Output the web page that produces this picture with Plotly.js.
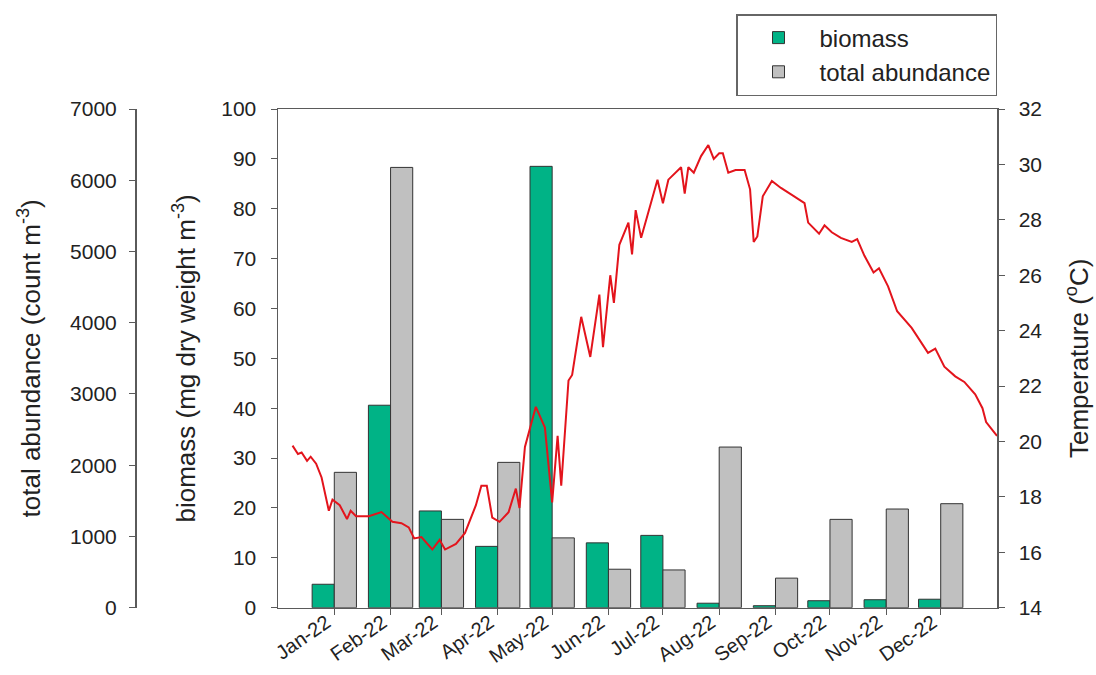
<!DOCTYPE html>
<html>
<head>
<meta charset="utf-8">
<script src="https://cdn.plot.ly/plotly-3.0.1.min.js"></script>
<style>html,body{margin:0;padding:0;background:#fff;}#chart{width:1096px;height:675px;}</style>
</head>
<body>
<div id="chart"></div>
<script>
// ---- data ----
var sampleMonths = ['2022-01-01','2022-02-01','2022-03-01','2022-04-01','2022-05-01','2022-06-01',
                    '2022-07-01','2022-08-01','2022-09-01','2022-10-01','2022-11-01','2022-12-01'];
var biomass   = [4.7, 40.6, 19.4, 12.3, 88.5, 13.0, 14.5, 0.9, 0.4, 1.4, 1.6, 1.7];
var abundance = [1900, 6180, 1240, 2040, 980, 540, 530, 2255, 415, 1240, 1385, 1460];

var tempDates = ['2021-12-09','2021-12-12','2021-12-14','2021-12-17','2021-12-19','2021-12-22','2021-12-25','2021-12-29','2021-12-31',
 '2022-01-04','2022-01-08','2022-01-10','2022-01-13','2022-01-20','2022-01-27','2022-02-02','2022-02-07','2022-02-11','2022-02-14',
 '2022-02-18','2022-02-24','2022-02-28','2022-03-03','2022-03-09','2022-03-14','2022-03-20','2022-03-23','2022-03-26','2022-03-29',
 '2022-04-02','2022-04-07','2022-04-11','2022-04-13','2022-04-16','2022-04-22','2022-04-25','2022-04-27','2022-05-01','2022-05-04',
 '2022-05-06','2022-05-10','2022-05-12','2022-05-17','2022-05-22','2022-05-27','2022-05-29','2022-06-02','2022-06-04','2022-06-07',
 '2022-06-12','2022-06-14','2022-06-16','2022-06-19','2022-06-22','2022-06-28','2022-07-01','2022-07-04','2022-07-11','2022-07-13',
 '2022-07-15','2022-07-18','2022-07-22','2022-07-26','2022-07-29','2022-08-01','2022-08-03','2022-08-06','2022-08-10','2022-08-15',
 '2022-08-18','2022-08-20','2022-08-22','2022-08-25','2022-08-30','2022-09-04','2022-09-10','2022-09-17','2022-09-19','2022-09-25',
 '2022-09-28','2022-10-02','2022-10-07','2022-10-13','2022-10-16','2022-10-20','2022-10-25','2022-10-28','2022-11-02','2022-11-07',
 '2022-11-15','2022-11-20','2022-11-24','2022-11-28','2022-12-03','2022-12-09','2022-12-14','2022-12-20','2022-12-24','2022-12-26',
 '2023-01-01'];
var tempValues = [19.85,19.55,19.6,19.3,19.45,19.2,18.7,17.5,17.9,
 17.7,17.2,17.5,17.3,17.3,17.45,17.1,17.05,16.9,16.5,
 16.55,16.1,16.45,16.1,16.3,16.7,17.7,18.4,18.4,17.25,
 17.1,17.45,18.3,17.6,19.8,21.25,20.8,20.5,17.8,20.2,
 18.4,22.2,22.4,24.5,23.05,25.3,23.4,26.0,25.0,27.1,
 27.9,26.75,28.35,27.35,28.05,29.45,28.6,29.45,29.9,28.95,
 29.9,29.7,30.3,30.7,30.2,30.4,30.4,29.7,29.8,29.8,
 29.1,27.2,27.4,28.85,29.4,29.15,28.9,28.6,27.9,27.5,
 27.8,27.55,27.35,27.2,27.3,26.7,26.1,26.25,25.6,24.7,
 24.1,23.6,23.2,23.35,22.7,22.35,22.15,21.7,21.2,20.7,
 20.2];

var tickLabels = sampleMonths; // formatted as Mon-YY by the axis

// ---- layout helpers ----
var W = 1096, H = 675;
var FONT = 'Liberation Sans, Arial, Helvetica, sans-serif';
var axisCol = '#5a5a5a';
var barW = 12.2 * 24 * 3600 * 1000;

var traces = [
  {type:'bar', name:'biomass', x: sampleMonths, y: biomass, xaxis:'x', yaxis:'y',
   width: barW, offset: -barW,
   marker:{color:'#00b386', line:{color:'#333', width:1}}},
  {type:'bar', name:'total abundance', x: sampleMonths, y: abundance, xaxis:'x', yaxis:'y2',
   width: barW, offset: 0,
   marker:{color:'#c0c0c0', line:{color:'#333', width:1}}},
  {type:'scatter', mode:'lines', name:'Temperature', x: tempDates, y: tempValues, xaxis:'x', yaxis:'y3',
   showlegend:false, line:{color:'#e3141c', width:2}}
];

var yDom = [1 - 607.7/H, 1 - 109/H];
var tickFont = {family: FONT, size: 21, color:'#222'};
var xTickFont = {family: FONT, size: 20, color:'#222'};
var titleFont = {family: FONT, size: 26, color:'#222'};

var layout = {
  width: W, height: H,
  margin:{l:0, r:0, t:0, b:0},
  paper_bgcolor:'#fff', plot_bgcolor:'rgba(0,0,0,0)',
  font:{family: FONT, color:'#222'},
  showlegend:true,
  legend:{x: 997/W, xanchor:'right', y: 1 - 14/H, yanchor:'top',
          bordercolor:'#666', borderwidth:1.5, bgcolor:'#fff',
          font:{family: FONT, size: 24, color:'#222'}, itemwidth: 72, tracegroupgap: 0},
  xaxis:{type:'date', domain:[278/W, 997/W], range:['2021-12-01','2023-01-01'],
         tickmode:'array', tickvals: tickLabels, tickformat:'%b-%y', tickangle:-35,
         ticks:'outside', ticklen:6, tickcolor: axisCol, showline:true, linecolor: axisCol, linewidth:1.5,
         mirror:true, showgrid:false, zeroline:false, tickfont: xTickFont, anchor:'y',
         ticklabelstandoff: -12, ticklabelshift: -8},
  yaxis:{domain: yDom, range:[0,100], dtick:10, tick0:0, anchor:'x', side:'left',
         ticks:'outside', ticklen:6, tickcolor: axisCol, showline:true, linecolor: axisCol, linewidth:1.5,
         showgrid:false, zeroline:false, tickfont: tickFont, ticklabelstandoff: 10,
         title:{text:'biomass (mg dry weight m<sup>-3</sup>)', font: titleFont, standoff: 18}},
  yaxis2:{overlaying:'y', range:[0,7000], dtick:1000, tick0:0, anchor:'free', position: 135/W, side:'left',
         ticks:'outside', ticklen:6, tickcolor: axisCol, showline:true, linecolor: axisCol, linewidth:1.5,
         showgrid:false, zeroline:false, tickfont: tickFont, ticklabelstandoff: 8,
         title:{text:'total abundance (count m<sup>-3</sup>)', font: titleFont, standoff: 20}},
  yaxis3:{overlaying:'y', range:[14,32], dtick:2, tick0:14, anchor:'x', side:'right',
         ticks:'outside', ticklen:6, tickcolor: axisCol, showline:true, linecolor: axisCol, linewidth:1.5,
         showgrid:false, zeroline:false, tickfont: tickFont, ticklabelstandoff: 10,
         title:{text:'Temperature (<sup>o</sup>C)', font: titleFont, standoff: 28}}
};

Plotly.newPlot('chart', traces, layout, {staticPlot:true, displayModeBar:false});
</script>
</body>
</html>
